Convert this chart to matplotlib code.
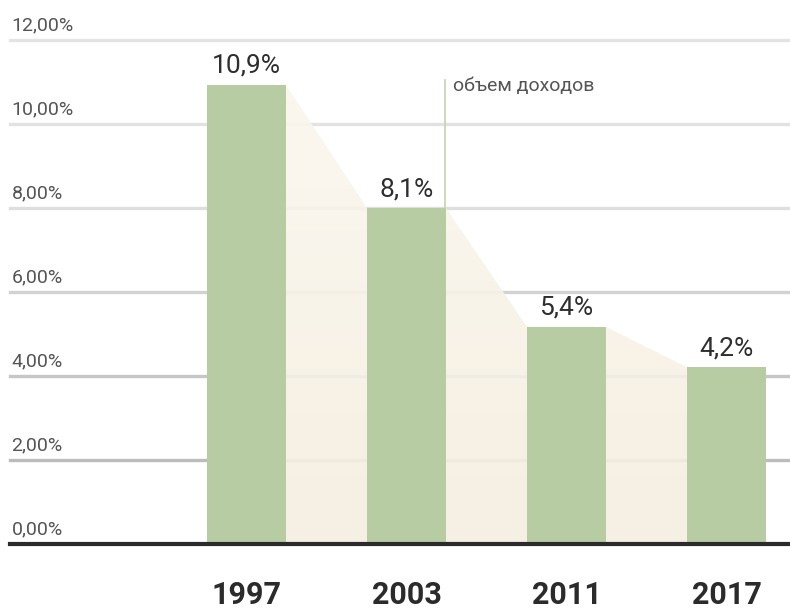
import numpy as np
import matplotlib.pyplot as plt
from matplotlib.patches import Polygon

plt.rcParams['font.family'] = ['Roboto', 'DejaVu Sans']

# data
years = ['1997', '2003', '2011', '2017']
shares = [10.93, 8.0, 5.17, 4.21]
share_labels = ['10,9%', '8,1%', '5,4%', '4,2%']
y_ticks = [0, 2, 4, 6, 8, 10, 12]
y_tick_labels = ['0,00%', '2,00%', '4,00%', '6,00%', '8,00%', '10,00%', '12,00%']
grid_colors = ['#bcbcbc', '#c6c6c6', '#d2d2d2', '#dedede', '#e2e2e2', '#e4e4e4']
note = 'объем доходов'

bar_color = '#b7cca3'
width = 0.494

fig = plt.figure(figsize=(7.9, 6.09), dpi=100)
ax = fig.add_axes([10 / 790, 65 / 609, 780 / 790, 504 / 609])
ax.axis('off')

x = np.arange(len(years))

# gridlines
for t, c in zip(y_ticks[1:], grid_colors):
    ax.axhline(t, color=c, lw=2.4, zorder=1, clip_on=False)

# beige area joining bar tops, light vertical gradient
pts = [(x[0] + width / 2, 0), (x[0] + width / 2, shares[0])]
for i in range(1, len(x)):
    pts.append((x[i] - width / 2, shares[i]))
    if i < len(x) - 1:
        pts.append((x[i] + width / 2, shares[i]))
pts.append((x[-1] - width / 2, 0))
poly = Polygon(pts, closed=True, facecolor='none', edgecolor='none')
ax.add_patch(poly)
grad = np.linspace(0, 1, 256).reshape(-1, 1)
top = np.array([0.985, 0.968, 0.935])
bot = np.array([0.965, 0.933, 0.878])
img = bot + (top - bot) * grad[..., None]
im = ax.imshow(img, extent=[x[0], x[-1], 0, 11], origin='lower', aspect='auto',
               zorder=1.5, alpha=0.9)
im.set_clip_path(poly)
ax.set_xlim(-1.478, 3.397)
ax.set_ylim(0, 12)

# bars
ax.bar(x, shares, width=width, color=bar_color, zorder=2)

# value labels
for xi, v, lab in zip(x, shares, share_labels):
    ax.annotate(lab, (xi, v), xytext=(0, 5), textcoords='offset points',
                ha='center', va='bottom', fontsize=19, color='#2e2e2e', zorder=4)

# y tick labels
for t, lab in zip(y_ticks, y_tick_labels):
    ax.annotate(lab, (0, t), xycoords=('axes fraction', 'data'), xytext=(1, 4),
                textcoords='offset points', ha='left', va='bottom',
                fontsize=14, color='#555555')

# baseline
ax.axhline(0, color='#2b2b2b', lw=3, zorder=3, clip_on=False)

# year labels
for xi, yr in zip(x, years):
    ax.text(xi, -1.22, yr, ha='center', va='center', fontsize=22,
            fontweight='bold', color='#2b2b2b')

# annotation
ax.plot([x[1] + width / 2 - 0.005] * 2, [shares[1], 11.05], color='#c2d3b1', lw=1.2, zorder=3)
ax.text(x[1] + width / 2 + 0.045, 10.9, note, ha='left', va='center',
        fontsize=14, color='#555555')

fig.savefig('out.png', dpi=100)
